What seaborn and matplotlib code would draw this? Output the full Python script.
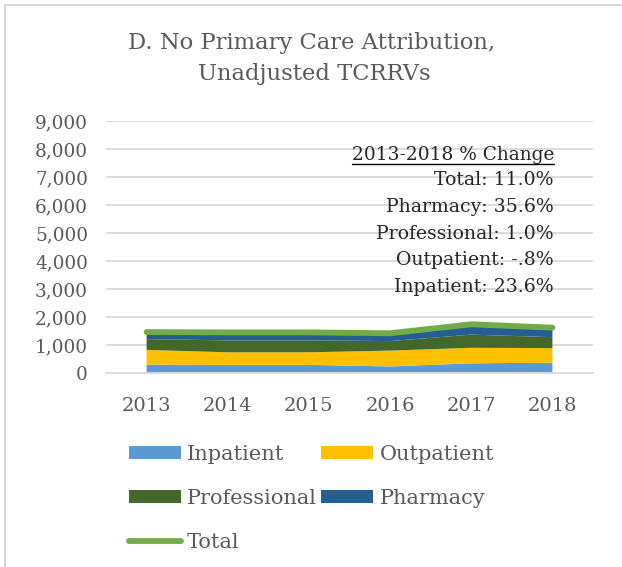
import seaborn as sns
import matplotlib.pyplot as plt
import pandas as pd
from matplotlib.lines import Line2D
from matplotlib.patches import Rectangle

years = ['2013', '2014', '2015', '2016', '2017', '2018']
inpatient = [300, 290, 290, 235, 345, 370]
outpatient = [525, 450, 450, 565, 555, 520]
professional = [385, 425, 425, 340, 470, 390]
pharmacy = [250, 285, 285, 280, 370, 340]
series_names = ['Inpatient', 'Outpatient', 'Professional', 'Pharmacy']
colors = ['#5B9BD5', '#FFC000', '#43682B', '#255E91']
total_color = '#70AD47'
note_lines = ['Total: 11.0%', 'Pharmacy: 35.6%', 'Professional: 1.0%',
              'Outpatient: -.8%', 'Inpatient: 23.6%']

df = pd.DataFrame({'Year': years, 'Inpatient': inpatient, 'Outpatient': outpatient,
                   'Professional': professional, 'Pharmacy': pharmacy})
df['Total'] = df[series_names].sum(axis=1)
df['x'] = range(len(df))

sns.set_style('white')
plt.rcParams['font.family'] = ['DejaVu Serif']

fig = plt.figure(figsize=(6.22, 5.67), dpi=100)
ax = fig.add_axes([106 / 622, 1 - 373 / 567, 487 / 622, 252 / 567])

# stacked areas
ax.stackplot(df['x'], [df[s] for s in series_names], colors=colors, labels=series_names,
             edgecolor='none')
sns.lineplot(data=df, x='x', y='Total', ax=ax, color=total_color, linewidth=4.2,
             solid_capstyle='round', label='Total', legend=False)

ax.set_xlim(-0.5, 5.5)
ax.set_ylim(0, 9000)
ax.set_yticks(range(0, 9001, 1000))
ax.set_yticklabels([f'{v:,}' for v in range(0, 9001, 1000)])
ax.set_xticks(df['x'])
ax.set_xticklabels(years)
ax.set_xticks([i - 0.5 for i in range(len(years) + 1)], minor=True)
ax.tick_params(axis='x', which='major', length=0, pad=17, labelsize=14, colors='#595959')
ax.tick_params(axis='x', which='minor', length=7, width=1.3, color='#D9D9D9')
ax.tick_params(axis='y', length=0, pad=13, labelsize=13.3, colors='#595959')
ax.grid(axis='y', color='#D9D9D9', linewidth=1.3)
ax.set_axisbelow(True)
for side in ['left', 'right', 'top']:
    ax.spines[side].set_visible(False)
ax.spines['bottom'].set_color('#D9D9D9')
ax.spines['bottom'].set_linewidth(1.3)
ax.set_xlabel('')
ax.set_ylabel('')

fig.text(312 / 622, 1 - 43 / 567, 'D. No Primary Care Attribution,', ha='center', va='center',
         fontsize=16.3, color='#595959')
fig.text(314 / 622, 1 - 74 / 567, 'Unadjusted TCRRVs', ha='center', va='center',
         fontsize=16.3, color='#595959')

# % change note
xr = 554 / 622
head = fig.text(xr, 1 - 155 / 567, '2013-2018 % Change', ha='right', va='center', fontsize=13.4)
for i, line in enumerate(note_lines):
    fig.text(xr, 1 - (180 + i * 26.8) / 567, line, ha='right', va='center', fontsize=13.6)
fig.canvas.draw()
bb = head.get_window_extent().transformed(fig.transFigure.inverted())
fig.add_artist(Line2D([bb.x0, bb.x1], [1 - 164 / 567, 1 - 164 / 567], color='black',
                      linewidth=1, transform=fig.transFigure))

# legend, row-wise order like Excel
handles, labels = ax.get_legend_handles_labels()
hmap = dict(zip(labels, handles))
order = ['Inpatient', 'Professional', 'Total', 'Outpatient', 'Pharmacy']
fig.legend([hmap[k] for k in order], order, loc='upper left',
           bbox_to_anchor=(110 / 622, 1 - 426 / 567), ncol=2, frameon=False, fontsize=15,
           handlelength=2.5, handleheight=0.62, handletextpad=0.3, labelspacing=1.2,
           columnspacing=0.2, labelcolor='#595959')

fig.add_artist(Rectangle((5 / 622, -0.01), 1.1, 1 - 5 / 567 + 0.01, transform=fig.transFigure,
                         fill=False, edgecolor='#D9D9D9', linewidth=1.5))

fig.savefig('out.png', dpi=100)
